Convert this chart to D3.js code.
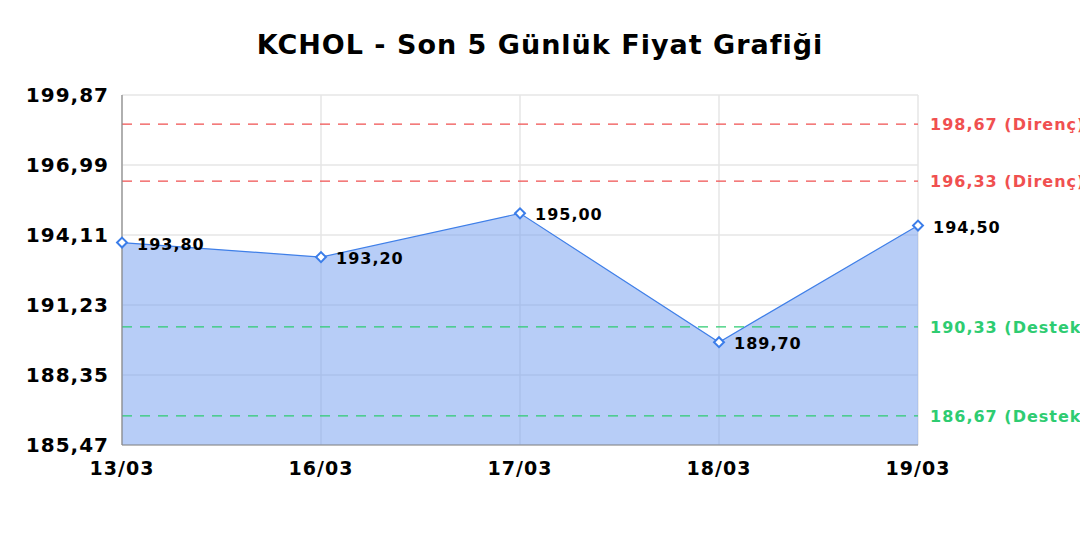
<!DOCTYPE html>
<html>
<head>
<meta charset="utf-8">
<script src="https://cdn.jsdelivr.net/npm/d3@7/dist/d3.min.js"></script>
<style>
  body { margin: 0; background: #fff; }
  svg { display: block; font-family: "DejaVu Sans", sans-serif; }
</style>
</head>
<body>
<svg id="chart"></svg>
<script>
const title = "KCHOL - Son 5 Günlük Fiyat Grafiği";
const dates = ["13/03", "16/03", "17/03", "18/03", "19/03"];
const prices = [193.8, 193.2, 195.0, 189.7, 194.5];
const yTicks = [185.47, 188.35, 191.23, 194.11, 196.99, 199.87];
const resistance = [198.67, 196.33];
const support = [190.33, 186.67];

const width = 1080;
const height = 540;
const margin = { top: 95, right: 162, bottom: 95, left: 122 };

const fmt = (v) => v.toFixed(2).replace(".", ",");

const svg = d3.select("#chart").attr("width", width).attr("height", height);

const x = d3
  .scalePoint()
  .domain(dates)
  .range([margin.left, width - margin.right]);

const y = d3
  .scaleLinear()
  .domain([yTicks[0], yTicks[yTicks.length - 1]])
  .range([height - margin.bottom, margin.top]);

// title
svg
  .append("text")
  .attr("x", 540)
  .attr("y", 54)
  .attr("text-anchor", "middle")
  .attr("font-size", 27)
  .attr("font-weight", "bold")
  .attr("letter-spacing", 1)
  .attr("fill", "#000")
  .text(title);

// grid
const grid = svg.append("g");
grid
  .selectAll("line.h")
  .data(yTicks)
  .join("line")
  .attr("x1", margin.left)
  .attr("x2", width - margin.right)
  .attr("y1", (d) => y(d))
  .attr("y2", (d) => y(d))
  .attr("stroke", "#e6e6e6")
  .attr("stroke-width", 1.5);
grid
  .selectAll("line.v")
  .data(dates)
  .join("line")
  .attr("x1", (d) => x(d))
  .attr("x2", (d) => x(d))
  .attr("y1", margin.top)
  .attr("y2", height - margin.bottom)
  .attr("stroke", "#e6e6e6")
  .attr("stroke-width", 1.5);

// area + line
const points = dates.map((d, i) => ({ date: d, value: prices[i] }));

svg
  .append("path")
  .datum(points)
  .attr("fill", "#6f9cf0")
  .attr("fill-opacity", 0.5)
  .attr(
    "d",
    d3
      .area()
      .x((d) => x(d.date))
      .y0(y(yTicks[0]))
      .y1((d) => y(d.value))
  );

svg
  .append("path")
  .datum(points)
  .attr("fill", "none")
  .attr("stroke", "#3f7fe8")
  .attr("stroke-width", 1.2)
  .attr(
    "d",
    d3
      .line()
      .x((d) => x(d.date))
      .y((d) => y(d.value))
  );

// reference lines
const refs = [
  ...resistance.map((v) => ({ v, label: `${fmt(v)} (Direnç)`, color: "#f05050" })),
  ...support.map((v) => ({ v, label: `${fmt(v)} (Destek)`, color: "#2ecc71" })),
];

const refG = svg.append("g");
refG
  .selectAll("line")
  .data(refs)
  .join("line")
  .attr("x1", margin.left)
  .attr("x2", width - margin.right)
  .attr("y1", (d) => y(d.v))
  .attr("y2", (d) => y(d.v))
  .attr("stroke", (d) => d.color)
  .attr("stroke-width", 1.3)
  .attr("stroke-dasharray", "10,8");
refG
  .selectAll("text")
  .data(refs)
  .join("text")
  .attr("x", width - margin.right + 12)
  .attr("y", (d) => y(d.v) + 6)
  .attr("font-size", 16)
  .attr("font-weight", "bold")
  .attr("letter-spacing", 1)
  .attr("fill", (d) => d.color)
  .text((d) => d.label);

// axes lines
svg
  .append("line")
  .attr("x1", margin.left)
  .attr("x2", margin.left)
  .attr("y1", margin.top)
  .attr("y2", height - margin.bottom)
  .attr("stroke", "#888")
  .attr("stroke-width", 1.2);
svg
  .append("line")
  .attr("x1", margin.left)
  .attr("x2", width - margin.right)
  .attr("y1", height - margin.bottom)
  .attr("y2", height - margin.bottom)
  .attr("stroke", "#888")
  .attr("stroke-width", 1.2);

// y tick labels
svg
  .append("g")
  .selectAll("text")
  .data(yTicks)
  .join("text")
  .attr("x", margin.left - 13)
  .attr("y", (d) => y(d) + 7)
  .attr("text-anchor", "end")
  .attr("font-size", 20)
  .attr("font-weight", "bold")
  .attr("letter-spacing", 1)
  .attr("fill", "#000")
  .text((d) => fmt(d));

// x tick labels
svg
  .append("g")
  .selectAll("text")
  .data(dates)
  .join("text")
  .attr("x", (d) => x(d))
  .attr("y", height - margin.bottom + 30)
  .attr("text-anchor", "middle")
  .attr("font-size", 19)
  .attr("font-weight", "bold")
  .attr("letter-spacing", 1)
  .attr("fill", "#000")
  .text((d) => d);

// markers
svg
  .append("g")
  .selectAll("path")
  .data(points)
  .join("path")
  .attr("transform", (d) => `translate(${x(d.date)},${y(d.value)}) rotate(45)`)
  .attr("d", "M-3.5,-3.5H3.5V3.5H-3.5Z")
  .attr("fill", "#fff")
  .attr("stroke", "#3b7de9")
  .attr("stroke-width", 2);

// data labels
svg
  .append("g")
  .selectAll("text")
  .data(points)
  .join("text")
  .attr("x", (d) => x(d.date) + 15)
  .attr("y", (d) => y(d.value) + 7)
  .attr("font-size", 16)
  .attr("font-weight", "bold")
  .attr("letter-spacing", 1)
  .attr("fill", "#000")
  .text((d) => fmt(d.value));
</script>
</body>
</html>
